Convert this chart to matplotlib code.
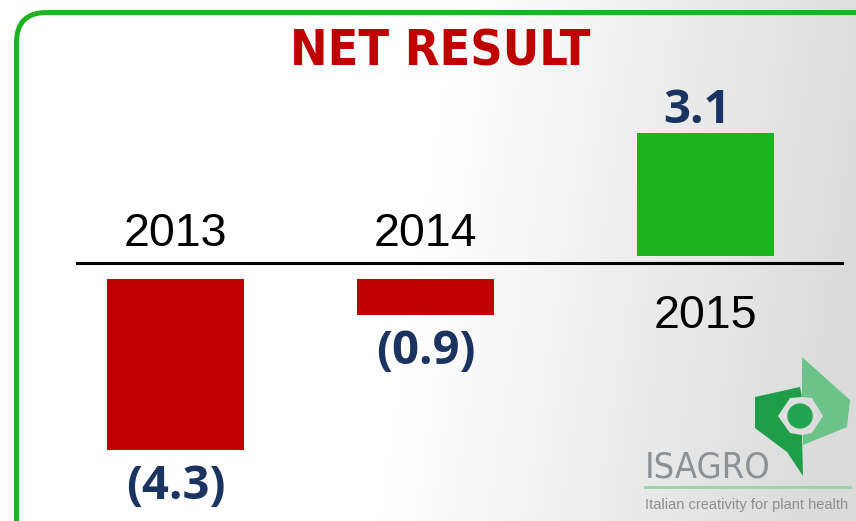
import numpy as np
import matplotlib.pyplot as plt
from matplotlib.patches import FancyBboxPatch, Polygon, Circle

# Дані графіка
years = ['2013', '2014', '2015']
net_result = [-4.3, -0.9, 3.1]
title = 'NET RESULT'

# Розміщення та стилі (у пікселях полотна)
W, H = 856, 521
x_pos = [175.5, 425.5, 705.5]
bar_width = 137
base_y = 263          # положення осі нуля
px_per_unit = 39.7
neg_gap, pos_gap = 0.4, 0.18
red, green, navy = '#C00000', '#1FB41F', '#1B3361'

fig = plt.figure(figsize=(W / 100, H / 100), dpi=100)

# Фон: градієнт, рамка, логотип
bg = fig.add_axes([0, 0, 1, 1])
xx, yy = np.meshgrid(np.arange(W), np.arange(H))
t = np.clip((xx - 420 + 0.15 * (yy - 260)) / 430, 0, 1)
shade = 1 - 0.14 * t
bg.imshow(np.dstack([shade] * 3), extent=(0, W, H, 0), aspect='auto', zorder=0)
bg.set_xlim(0, W)
bg.set_ylim(H, 0)
bg.axis('off')

frame = FancyBboxPatch((16.5, 12.5), 880, 540, boxstyle='round,pad=0,rounding_size=30',
                       fill=False, ec=green, lw=3.6, zorder=2)
bg.add_patch(frame)

bg.text(440, 65, title, ha='center', va='baseline', fontsize=36, fontweight='bold',
        fontstretch='condensed', color=red, family='DejaVu Sans', zorder=3)

# Логотип ISAGRO (приблизно)
dark = [(755, 397), (800, 387), (802, 397), (790, 398), (778, 416), (790, 433),
        (802, 435), (803, 476), (787, 452), (755, 428)]
light = [(802, 357), (850, 400), (847, 427), (803, 445), (803, 435), (812, 433),
         (823, 416), (812, 398), (802, 397)]
bg.add_patch(Polygon(dark, closed=True, fc='#1E9E48', ec='none', zorder=2))
bg.add_patch(Polygon(light, closed=True, fc='#6CC38A', ec='none', zorder=2))
bg.add_patch(Circle((800, 416), 12.7, fc='#22A550', ec='none', zorder=3))
bg.text(645, 477, 'ISAGRO', ha='left', va='baseline', fontsize=26, color='#8C9196',
        fontstretch='condensed', family='DejaVu Sans', zorder=3)
bg.plot([645, 850], [487, 487], color='#9AD3A5', lw=2, zorder=3)
bg.text(645, 505, 'Italian creativity for plant health', ha='left', va='center',
        fontsize=10.5, color='#8E8E8E', family=['Liberation Sans', 'DejaVu Sans'], zorder=3)

# Стовпчики
ax = fig.add_axes([0, 0, 1, 1])
ax.set_facecolor('none')
ax.set_xlim(0, W)
ax.set_ylim(-(H - base_y) / px_per_unit, base_y / px_per_unit)
ax.axis('off')

vals = np.array(net_result)
bottoms = np.where(vals < 0, -neg_gap, pos_gap)
colors = [red if v < 0 else green for v in vals]
ax.bar(x_pos, vals, width=bar_width, bottom=bottoms, color=colors, zorder=2)
ax.axhline(0, xmin=77 / W, xmax=842 / W, color='black', lw=2.2, zorder=2)

for x, v, b, yr in zip(x_pos, vals, bottoms, years):
    if v > 0:
        label, val_off, yr_off = f'{v:.1f}', (-6, 7.2), -51.8
    else:
        label, val_off, yr_off = f'({abs(v):.1f})', (0, -35.3), 23.8
    ax.annotate(label, (x, b + v), xytext=val_off, textcoords='offset points',
                ha='center', va='baseline', fontsize=34, fontweight='bold', color=navy,
                family=['Open Sans', 'DejaVu Sans'])
    ax.annotate(yr, (x, b), xytext=(0, yr_off), textcoords='offset points',
                ha='center', va='baseline', fontsize=33.5, color='black',
                family=['Liberation Sans', 'DejaVu Sans'])

fig.savefig('out.png', dpi=100)
